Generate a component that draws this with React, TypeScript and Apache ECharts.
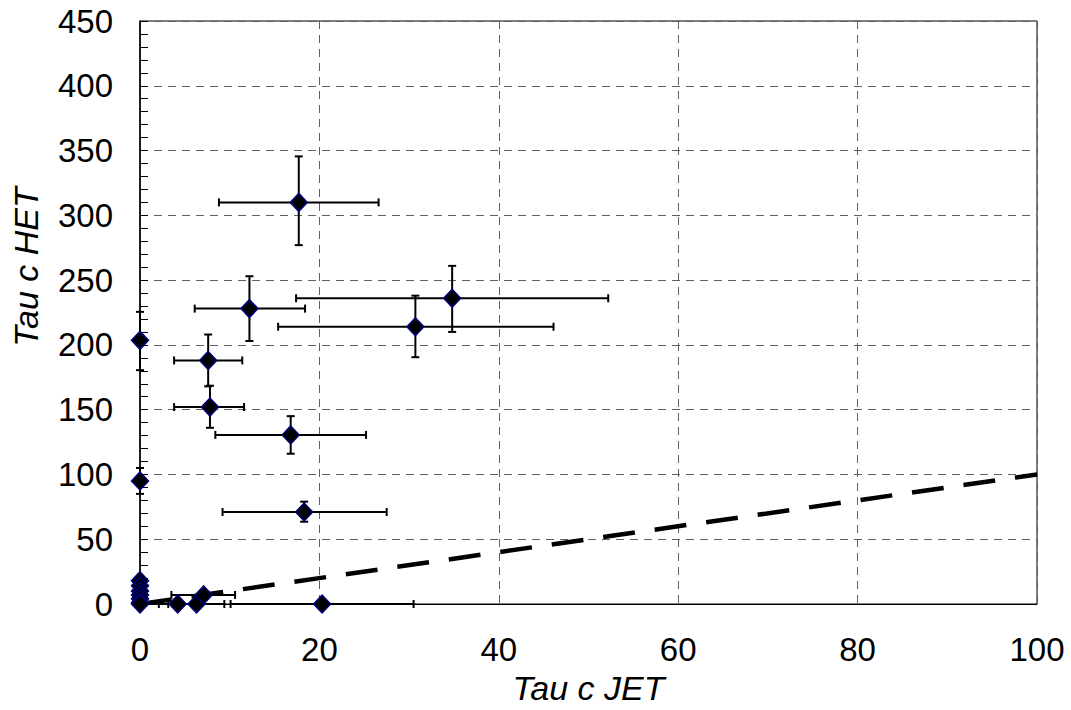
import React, { useEffect, useRef } from "react";
import * as echarts from "echarts";

// Points with error bars (null = no error bar in that direction)
const ptX = [17.7, 12.2, 34.8, 30.7, 7.6, 7.8, 16.8, 18.3, 0, 0, 20.3, 6.3, 4.2, 7.1];
const ptY = [310, 228, 236, 214, 188, 152, 130.5, 71, 203.5, 95, 0, 0, 0, 7];
const xLow = [8.8, 6.1, 17.4, 15.4, 3.8, 3.8, 8.4, 9.2, null, null, 10.1, 3.15, 2.1, 3.5];
const xHigh = [26.6, 18.4, 52.2, 46.1, 11.4, 11.6, 25.2, 27.5, null, null, 30.5, 9.4, 6.3, 10.6];
const yLow = [277, 203, 210, 190.5, 168, 136, 116, 63.5, 180.5, 85, null, null, null, null];
const yHigh = [345.5, 253, 261, 238, 208, 168.5, 145, 79, 225.5, 105, null, null, null, null];

// Cluster of points on the y axis near the origin (no error bars)
const clusterX = [0, 0, 0, 0, 0, 0, 0];
const clusterY = [18, 14, 10, 7, 4, 1, 0];

// Reference line y = x
const refLine = [
  [0, 0],
  [100, 100],
];

const xTicks = { min: 0, max: 100, interval: 20 };
const yTicks = { min: 0, max: 450, interval: 50 };

const FONT = "'Liberation Sans', Arial, sans-serif";

export default function App() {
  const ref = useRef<HTMLDivElement>(null);

  useEffect(() => {
    const chart = echarts.init(ref.current!, null, { renderer: "svg" });

    const scatterData: number[][] = [];
    ptX.forEach((x, i) => scatterData.push([x, ptY[i]]));
    clusterX.forEach((x, i) => scatterData.push([x, clusterY[i]]));

    const errData = ptX.map((x, i) => [x, ptY[i]]);

    chart.setOption({
      animation: false,
      backgroundColor: "#fff",
      grid: {
        left: 140,
        right: 34,
        top: 21,
        bottom: 105,
        show: true,
        borderColor: "#000",
        borderWidth: 1,
        backgroundColor: "#fff",
      },
      xAxis: {
        type: "value",
        min: xTicks.min,
        max: xTicks.max,
        interval: xTicks.interval,
        name: "Tau c JET",
        nameLocation: "middle",
        nameGap: 67,
        nameTextStyle: {
          fontSize: 34,
          fontStyle: "italic",
          color: "#000",
          fontFamily: FONT,
        },
        axisLine: { show: true, lineStyle: { color: "#000", width: 1 } },
        axisTick: { show: false },
        axisLabel: { fontSize: 33, color: "#000", margin: 29, fontFamily: FONT },
        splitLine: {
          show: true,
          lineStyle: { color: "#606060", type: [8, 6], width: 1 },
        },
      },
      yAxis: {
        type: "value",
        min: yTicks.min,
        max: yTicks.max,
        interval: yTicks.interval,
        axisLine: { show: true, lineStyle: { color: "#000", width: 1.5 } },
        axisTick: { show: true, inside: true, length: 8, lineStyle: { color: "#000" } },
        minorTick: { show: true, splitNumber: 5, length: 8, lineStyle: { color: "#000" } },
        axisLabel: { fontSize: 33, color: "#000", margin: 27, fontFamily: FONT },
        splitLine: {
          show: true,
          lineStyle: { color: "#606060", type: [8, 6], width: 1 },
        },
      },
      graphic: [
        {
          type: "text",
          x: 26,
          y: 267,
          rotation: Math.PI / 2,
          style: {
            text: "Tau c HET",
            font: `italic 34px ${FONT}`,
            fill: "#000",
            textAlign: "center",
            textVerticalAlign: "middle",
          },
        },
      ],
      series: [
        {
          type: "custom",
          z: 2,
          clip: false,
          data: errData,
          renderItem: (params: any, api: any) => {
            const i = params.dataIndex;
            const cap = 4;
            const style = { stroke: "#000", lineWidth: 2 };
            const children: any[] = [];
            if (xLow[i] !== null && xHigh[i] !== null) {
              const a = api.coord([xLow[i], ptY[i]]);
              const b = api.coord([xHigh[i], ptY[i]]);
              children.push({ type: "line", shape: { x1: a[0], y1: a[1], x2: b[0], y2: b[1] }, style });
              children.push({ type: "line", shape: { x1: a[0], y1: a[1] - cap, x2: a[0], y2: a[1] + cap }, style });
              children.push({ type: "line", shape: { x1: b[0], y1: b[1] - cap, x2: b[0], y2: b[1] + cap }, style });
            }
            if (yLow[i] !== null && yHigh[i] !== null) {
              const a = api.coord([ptX[i], yLow[i]]);
              const b = api.coord([ptX[i], yHigh[i]]);
              children.push({ type: "line", shape: { x1: a[0], y1: a[1], x2: b[0], y2: b[1] }, style });
              children.push({ type: "line", shape: { x1: a[0] - cap, y1: a[1], x2: a[0] + cap, y2: a[1] }, style });
              children.push({ type: "line", shape: { x1: b[0] - cap, y1: b[1], x2: b[0] + cap, y2: b[1] }, style });
            }
            return { type: "group", children };
          },
        },
        {
          type: "line",
          z: 3,
          data: refLine,
          symbol: "none",
          lineStyle: { color: "#000", width: 4.5, type: [32, 20] },
        },
        {
          type: "scatter",
          z: 4,
          clip: false,
          data: scatterData,
          symbol: "diamond",
          symbolSize: [17, 18],
          itemStyle: { color: "#000", borderColor: "#000080", borderWidth: 1.5, opacity: 1 },
        },
      ],
    });

    return () => chart.dispose();
  }, []);

  return (
    <div
      ref={ref}
      style={{ position: "absolute", left: 0, top: 0, width: 1071, height: 710 }}
    />
  );
}
